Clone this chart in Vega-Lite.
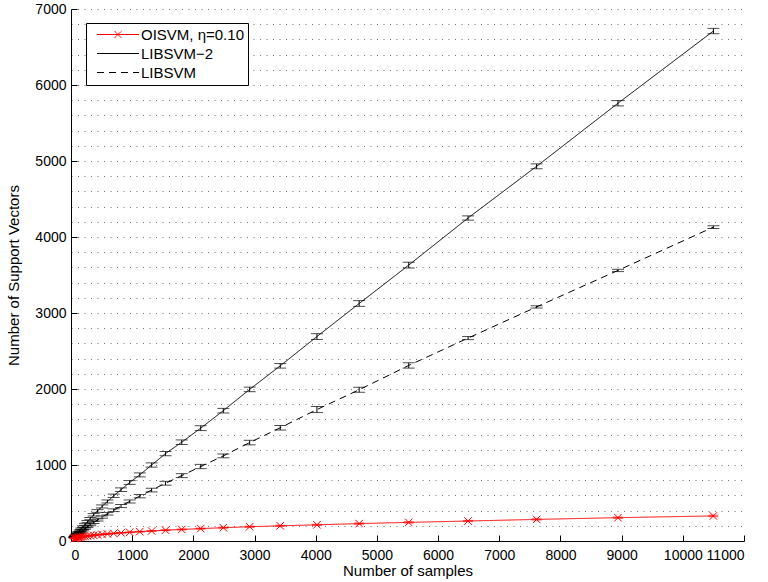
{
  "$schema": "https://vega.github.io/schema/vega-lite/v6.json",
  "width": 673,
  "height": 532,
  "autosize": "none",
  "padding": {"left": 71, "top": 9, "right": 24, "bottom": 41},
  "background": "white",
  "config": {
    "font": "Liberation Sans",
    "view": {"stroke": null},
    "axis": {
      "domainColor": "#000",
      "tickColor": "#000",
      "labelColor": "#000",
      "titleColor": "#000",
      "labelFontSize": 14,
      "titleFontSize": 15,
      "titleFontWeight": "normal",
      "tickSize": -6
    }
  },
  "data": {
    "values": [
      {"samples": 10500, "series": "OISVM, η=0.10", "sv": 330, "err": 10},
      {"samples": 8940, "series": "OISVM, η=0.10", "sv": 307, "err": 8},
      {"samples": 7610, "series": "OISVM, η=0.10", "sv": 284, "err": 8},
      {"samples": 6490, "series": "OISVM, η=0.10", "sv": 263, "err": 8},
      {"samples": 5520, "series": "OISVM, η=0.10", "sv": 245, "err": 8},
      {"samples": 4710, "series": "OISVM, η=0.10", "sv": 229, "err": 8},
      {"samples": 4020, "series": "OISVM, η=0.10", "sv": 213, "err": 7},
      {"samples": 3420, "series": "OISVM, η=0.10", "sv": 200, "err": 7},
      {"samples": 2920, "series": "OISVM, η=0.10", "sv": 188, "err": 7},
      {"samples": 2490, "series": "OISVM, η=0.10", "sv": 175, "err": 6},
      {"samples": 2120, "series": "OISVM, η=0.10", "sv": 163, "err": 6},
      {"samples": 1810, "series": "OISVM, η=0.10", "sv": 152, "err": 6},
      {"samples": 1545, "series": "OISVM, η=0.10", "sv": 142, "err": 6},
      {"samples": 1318, "series": "OISVM, η=0.10", "sv": 132, "err": 5},
      {"samples": 1124, "series": "OISVM, η=0.10", "sv": 123, "err": 5},
      {"samples": 959, "series": "OISVM, η=0.10", "sv": 115, "err": 5},
      {"samples": 818, "series": "OISVM, η=0.10", "sv": 107, "err": 5},
      {"samples": 698, "series": "OISVM, η=0.10", "sv": 100, "err": 5},
      {"samples": 595, "series": "OISVM, η=0.10", "sv": 93, "err": 4},
      {"samples": 508, "series": "OISVM, η=0.10", "sv": 87, "err": 4},
      {"samples": 433, "series": "OISVM, η=0.10", "sv": 81, "err": 4},
      {"samples": 370, "series": "OISVM, η=0.10", "sv": 75, "err": 4},
      {"samples": 315, "series": "OISVM, η=0.10", "sv": 70, "err": 4},
      {"samples": 269, "series": "OISVM, η=0.10", "sv": 65, "err": 4},
      {"samples": 230, "series": "OISVM, η=0.10", "sv": 61, "err": 4},
      {"samples": 196, "series": "OISVM, η=0.10", "sv": 57, "err": 4},
      {"samples": 167, "series": "OISVM, η=0.10", "sv": 53, "err": 4},
      {"samples": 143, "series": "OISVM, η=0.10", "sv": 49, "err": 4},
      {"samples": 122, "series": "OISVM, η=0.10", "sv": 46, "err": 4},
      {"samples": 104, "series": "OISVM, η=0.10", "sv": 43, "err": 4},
      {"samples": 89, "series": "OISVM, η=0.10", "sv": 40, "err": 4},
      {"samples": 76, "series": "OISVM, η=0.10", "sv": 37, "err": 4},
      {"samples": 65, "series": "OISVM, η=0.10", "sv": 35, "err": 4},
      {"samples": 55, "series": "OISVM, η=0.10", "sv": 32, "err": 4},

      {"samples": 10500, "series": "LIBSVM−2", "sv": 6710, "err": 35},
      {"samples": 8940, "series": "LIBSVM−2", "sv": 5760, "err": 35},
      {"samples": 7610, "series": "LIBSVM−2", "sv": 4930, "err": 32},
      {"samples": 6490, "series": "LIBSVM−2", "sv": 4250, "err": 28},
      {"samples": 5520, "series": "LIBSVM−2", "sv": 3630, "err": 38},
      {"samples": 4710, "series": "LIBSVM−2", "sv": 3125, "err": 38},
      {"samples": 4020, "series": "LIBSVM−2", "sv": 2690, "err": 38},
      {"samples": 3420, "series": "LIBSVM−2", "sv": 2305, "err": 30},
      {"samples": 2920, "series": "LIBSVM−2", "sv": 1995, "err": 30},
      {"samples": 2490, "series": "LIBSVM−2", "sv": 1715, "err": 30},
      {"samples": 2120, "series": "LIBSVM−2", "sv": 1485, "err": 32},
      {"samples": 1810, "series": "LIBSVM−2", "sv": 1300, "err": 30},
      {"samples": 1545, "series": "LIBSVM−2", "sv": 1150, "err": 28},
      {"samples": 1318, "series": "LIBSVM−2", "sv": 1000, "err": 28},
      {"samples": 1124, "series": "LIBSVM−2", "sv": 870, "err": 26},
      {"samples": 959, "series": "LIBSVM−2", "sv": 770, "err": 25},
      {"samples": 818, "series": "LIBSVM−2", "sv": 675, "err": 24},
      {"samples": 698, "series": "LIBSVM−2", "sv": 595, "err": 22},
      {"samples": 595, "series": "LIBSVM−2", "sv": 520, "err": 20},
      {"samples": 508, "series": "LIBSVM−2", "sv": 455, "err": 20},
      {"samples": 433, "series": "LIBSVM−2", "sv": 395, "err": 18},
      {"samples": 370, "series": "LIBSVM−2", "sv": 345, "err": 16},
      {"samples": 315, "series": "LIBSVM−2", "sv": 295, "err": 15},
      {"samples": 269, "series": "LIBSVM−2", "sv": 255, "err": 14},
      {"samples": 230, "series": "LIBSVM−2", "sv": 220, "err": 12},
      {"samples": 196, "series": "LIBSVM−2", "sv": 188, "err": 11},
      {"samples": 167, "series": "LIBSVM−2", "sv": 160, "err": 10},
      {"samples": 143, "series": "LIBSVM−2", "sv": 137, "err": 9},
      {"samples": 122, "series": "LIBSVM−2", "sv": 117, "err": 8},
      {"samples": 104, "series": "LIBSVM−2", "sv": 100, "err": 7},
      {"samples": 89, "series": "LIBSVM−2", "sv": 86, "err": 6},
      {"samples": 76, "series": "LIBSVM−2", "sv": 73, "err": 5},
      {"samples": 65, "series": "LIBSVM−2", "sv": 63, "err": 5},
      {"samples": 55, "series": "LIBSVM−2", "sv": 53, "err": 4},

      {"samples": 10500, "series": "LIBSVM", "sv": 4130, "err": 18},
      {"samples": 8940, "series": "LIBSVM", "sv": 3560, "err": 15},
      {"samples": 7610, "series": "LIBSVM", "sv": 3080, "err": 15},
      {"samples": 6490, "series": "LIBSVM", "sv": 2670, "err": 20},
      {"samples": 5520, "series": "LIBSVM", "sv": 2310, "err": 35},
      {"samples": 4710, "series": "LIBSVM", "sv": 1990, "err": 33},
      {"samples": 4020, "series": "LIBSVM", "sv": 1730, "err": 40},
      {"samples": 3420, "series": "LIBSVM", "sv": 1490, "err": 30},
      {"samples": 2920, "series": "LIBSVM", "sv": 1295, "err": 30},
      {"samples": 2490, "series": "LIBSVM", "sv": 1120, "err": 25},
      {"samples": 2120, "series": "LIBSVM", "sv": 980, "err": 28},
      {"samples": 1810, "series": "LIBSVM", "sv": 860, "err": 26},
      {"samples": 1545, "series": "LIBSVM", "sv": 760, "err": 25},
      {"samples": 1318, "series": "LIBSVM", "sv": 670, "err": 24},
      {"samples": 1124, "series": "LIBSVM", "sv": 590, "err": 22},
      {"samples": 959, "series": "LIBSVM", "sv": 520, "err": 20},
      {"samples": 818, "series": "LIBSVM", "sv": 460, "err": 20},
      {"samples": 698, "series": "LIBSVM", "sv": 405, "err": 18},
      {"samples": 595, "series": "LIBSVM", "sv": 358, "err": 16},
      {"samples": 508, "series": "LIBSVM", "sv": 315, "err": 15},
      {"samples": 433, "series": "LIBSVM", "sv": 277, "err": 14},
      {"samples": 370, "series": "LIBSVM", "sv": 243, "err": 13},
      {"samples": 315, "series": "LIBSVM", "sv": 213, "err": 12},
      {"samples": 269, "series": "LIBSVM", "sv": 187, "err": 11},
      {"samples": 230, "series": "LIBSVM", "sv": 164, "err": 10},
      {"samples": 196, "series": "LIBSVM", "sv": 143, "err": 9},
      {"samples": 167, "series": "LIBSVM", "sv": 125, "err": 8},
      {"samples": 143, "series": "LIBSVM", "sv": 109, "err": 7},
      {"samples": 122, "series": "LIBSVM", "sv": 95, "err": 6},
      {"samples": 104, "series": "LIBSVM", "sv": 83, "err": 6},
      {"samples": 89, "series": "LIBSVM", "sv": 72, "err": 5},
      {"samples": 76, "series": "LIBSVM", "sv": 62, "err": 5},
      {"samples": 65, "series": "LIBSVM", "sv": 54, "err": 4},
      {"samples": 55, "series": "LIBSVM", "sv": 46, "err": 4}
    ]
  },
  "encoding": {
    "x": {
      "field": "samples",
      "type": "quantitative",
      "title": "Number of samples",
      "scale": {"domain": [0, 11000], "nice": false, "zero": true},
      "axis": {
        "values": [0, 1000, 2000, 3000, 4000, 5000, 6000, 7000, 8000, 9000, 10000, 11000],
        "format": "d",
        "grid": false,
        "labelPadding": 13,
        "titlePadding": 1
      }
    },
    "y": {
      "field": "sv",
      "type": "quantitative",
      "title": "Number of Support Vectors",
      "scale": {"domain": [0, 7000], "nice": false},
      "axis": {
        "values": [0, 200, 400, 600, 800, 1000, 1200, 1400, 1600, 1800, 2000, 2200, 2400, 2600, 2800, 3000, 3200, 3400, 3600, 3800, 4000, 4200, 4400, 4600, 4800, 5000, 5200, 5400, 5600, 5800, 6000, 6200, 6400, 6600, 6800, 7000],
        "format": "d",
        "labelExpr": "datum.value % 1000 === 0 ? datum.label : ''",
        "tickOpacity": {"condition": {"test": "datum.value % 1000 !== 0", "value": 0}, "value": 1},
        "grid": true,
        "gridColor": "#000",
        "gridOpacity": 0.55,
        "gridDash": [1, 5.5],
        "gridWidth": 1,
        "labelPadding": 11,
        "titlePadding": 13
      }
    }
  },
  "layer": [
    {
      "mark": {"type": "line", "strokeWidth": 1, "clip": false},
      "encoding": {
        "color": {
          "field": "series",
          "type": "nominal",
          "scale": {"domain": ["OISVM, η=0.10", "LIBSVM−2", "LIBSVM"], "range": ["#ff0000", "#000000", "#000000"]},
          "legend": {
            "title": null,
            "orient": "none",
            "legendX": 15,
            "legendY": 14,
            "padding": 4,
            "rowPadding": 3,
            "strokeColor": "#000",
            "fillColor": "#fff",
            "labelFontSize": 15,
            "labelColor": "#000",
            "symbolSize": 196,
            "symbolStrokeWidth": 1,
            "labelOffset": 36,
            "symbolType": "M-0.07,0H5.93",
            "encode": {
              "symbols": {
                "update": {
                  "shape": {"signal": "datum.value === 'OISVM, η=0.10' ? 'M-0.07,0H5.93M2.43,-0.5L3.43,0.5M2.43,0.5L3.43,-0.5' : 'M-0.07,0H5.93'"}
                }
              }
            }
          }
        },
        "strokeDash": {
          "field": "series",
          "type": "nominal",
          "scale": {"domain": ["OISVM, η=0.10", "LIBSVM−2", "LIBSVM"], "range": [[1, 0], [1, 0], [7, 5]]},
          "legend": {
            "title": null,
            "orient": "none",
            "legendX": 15,
            "legendY": 14,
            "padding": 4,
            "rowPadding": 3,
            "strokeColor": "#000",
            "fillColor": "#fff",
            "labelFontSize": 15,
            "labelColor": "#000",
            "symbolSize": 196,
            "symbolStrokeWidth": 1,
            "labelOffset": 36,
            "symbolType": "M-0.07,0H5.93",
            "encode": {
              "symbols": {
                "update": {
                  "shape": {"signal": "datum.value === 'OISVM, η=0.10' ? 'M-0.07,0H5.93M2.43,-0.5L3.43,0.5M2.43,0.5L3.43,-0.5' : 'M-0.07,0H5.93'"}
                }
              }
            }
          }
        }
      }
    },
    {
      "transform": [{"filter": "datum.series !== 'OISVM, η=0.10'"}],
      "mark": {"type": "errorbar", "color": "#000", "ticks": {"size": 12, "color": "#000"}, "rule": {"color": "#000", "strokeWidth": 1}},
      "encoding": {"yError": {"field": "err"}}
    },
    {
      "transform": [{"filter": "datum.series === 'OISVM, η=0.10'"}],
      "mark": {"type": "errorbar", "color": "#ff0000", "ticks": {"size": 10, "color": "#ff0000"}, "rule": {"color": "#ff0000", "strokeWidth": 1}},
      "encoding": {"yError": {"field": "err"}}
    },
    {
      "transform": [{"filter": "datum.series === 'OISVM, η=0.10'"}],
      "mark": {"type": "point", "shape": "M-1,-1L1,1M-1,1L1,-1", "size": 56, "filled": false, "color": "#ff0000", "strokeWidth": 1, "opacity": 1}
    }
  ]
}
